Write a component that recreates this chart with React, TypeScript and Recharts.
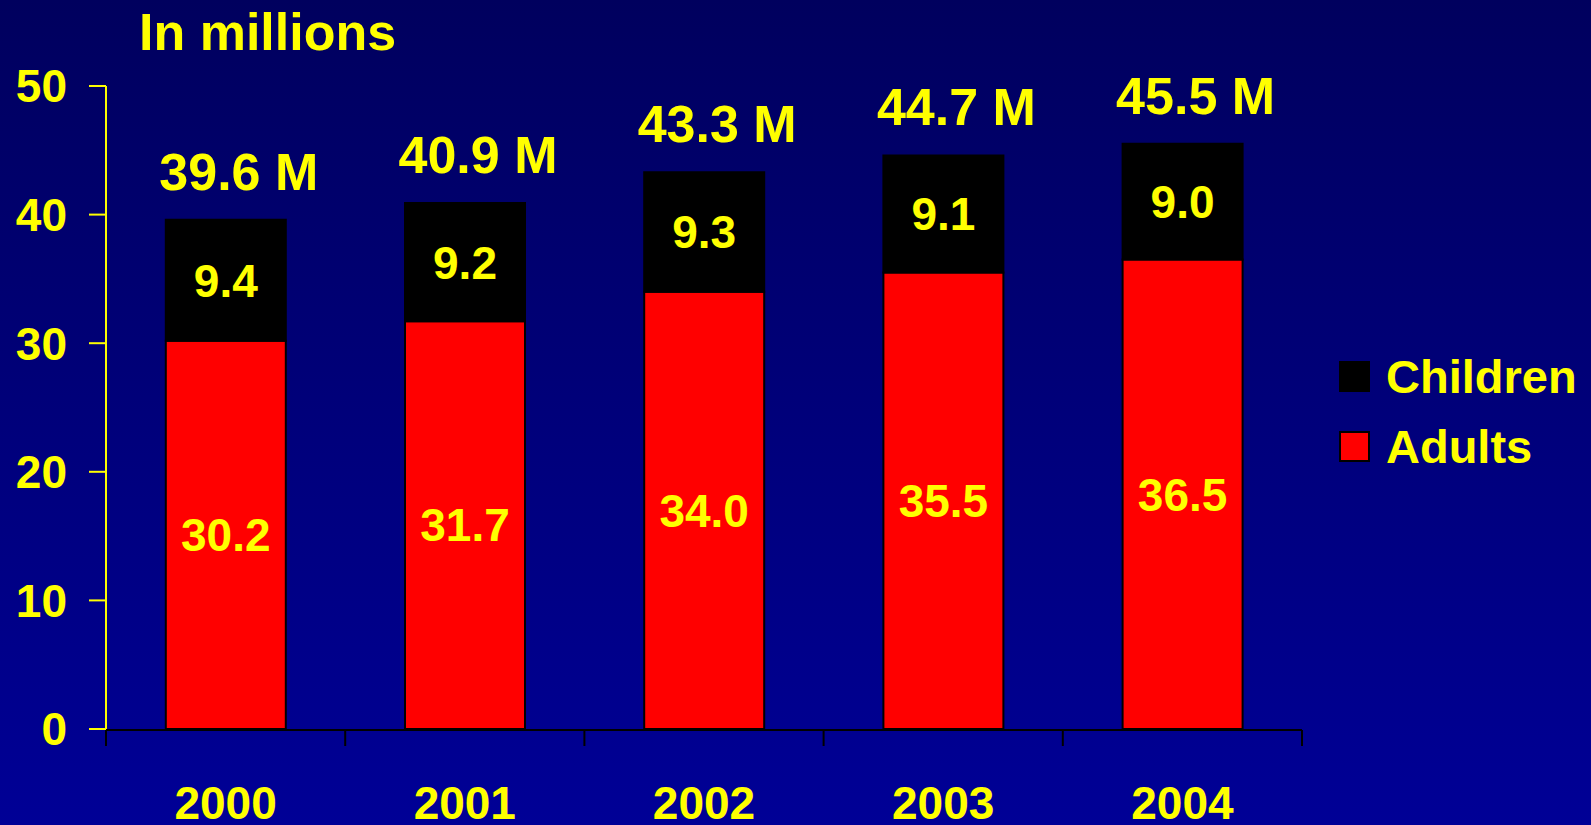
// People living with HIV, adults vs children, stacked bars on a navy slide background.
import { BarChart, Bar, XAxis, YAxis, LabelList } from 'recharts';

const years = ['2000', '2001', '2002', '2003', '2004'];
const adults = [30.2, 31.7, 34.0, 35.5, 36.5];
const children = [9.4, 9.2, 9.3, 9.1, 9.0];
const totals = ['39.6 M', '40.9 M', '43.3 M', '44.7 M', '45.5 M'];
const yTicks = [0, 10, 20, 30, 40, 50];
const edgeTicks = [0, 1, 2, 3, 4, 5]; // category boundaries, where the tick marks sit

const FONT = '"Liberation Sans", Arial, sans-serif';
const YELLOW = '#FFFF00';

const legendItems = [
  { name: 'Children', color: '#000000' },
  { name: 'Adults', color: '#FF0000' },
];

// slot = middle of each category on the 0..5 boundary scale
const data = years.map((year, i) => ({
  year,
  slot: i + 0.5,
  adults: adults[i],
  children: children[i],
  total: totals[i],
}));

const valueLabel = {
  fill: YELLOW,
  fontSize: 46,
  fontWeight: 'bold',
  fontFamily: FONT,
};

function TotalLabel(props: any) {
  const { x, y, width, value } = props;
  return (
    <text
      x={x + width / 2 + 13}
      y={y - 30}
      textAnchor="middle"
      fill={YELLOW}
      fontSize={52}
      fontWeight="bold"
      fontFamily={FONT}
    >
      {value}
    </text>
  );
}

// tick marks only, no text under the boundary ticks
const NoLabel = () => <g />;

export default function App() {
  return (
    <div
      style={{
        position: 'absolute',
        left: 0,
        top: 0,
        width: 1591,
        height: 825,
        overflow: 'hidden',
        background: 'linear-gradient(to bottom, #00005E, #000096)',
        fontFamily: FONT,
      }}
    >
      <div
        style={{
          position: 'absolute',
          left: 139,
          top: 6,
          fontSize: 52,
          lineHeight: '52px',
          fontWeight: 'bold',
          color: YELLOW,
          whiteSpace: 'nowrap',
        }}
      >
        In millions
      </div>

      <BarChart
        width={1591}
        height={825}
        data={data}
        margin={{ top: 86, right: 289, bottom: 0, left: 0 }}
        barCategoryGap="25%"
      >
        <YAxis
          type="number"
          domain={[0, 50]}
          ticks={yTicks}
          interval={0}
          width={106}
          stroke={YELLOW}
          strokeWidth={2}
          tickSize={17}
          tickMargin={22}
          tick={{ fill: YELLOW, fontSize: 46, fontWeight: 'bold', fontFamily: FONT }}
        />
        <XAxis
          dataKey="year"
          height={1}
          interval={0}
          axisLine={false}
          tickLine={false}
          tickSize={0}
          tickMargin={57}
          tick={{ fill: YELLOW, fontSize: 46, fontWeight: 'bold', fontFamily: FONT }}
        />
        <XAxis
          xAxisId="edges"
          dataKey="slot"
          type="number"
          domain={[0, 5]}
          ticks={edgeTicks}
          interval={0}
          height={95}
          allowDataOverflow
          stroke="#000000"
          strokeWidth={2}
          tickSize={16}
          tickLine={{ stroke: '#000000', strokeWidth: 2 }}
          tick={NoLabel}
        />
        <Bar
          dataKey="adults"
          stackId="a"
          fill="#FF0000"
          stroke="#000000"
          strokeWidth={2}
          isAnimationActive={false}
        >
          <LabelList
            dataKey="adults"
            position="center"
            formatter={(v: any) => Number(v).toFixed(1)}
            {...valueLabel}
          />
        </Bar>
        <Bar
          dataKey="children"
          stackId="a"
          fill="#000000"
          stroke="#000000"
          strokeWidth={2}
          isAnimationActive={false}
        >
          <LabelList
            dataKey="children"
            position="center"
            formatter={(v: any) => Number(v).toFixed(1)}
            {...valueLabel}
          />
          <LabelList dataKey="total" content={TotalLabel} />
        </Bar>
      </BarChart>

      <div style={{ position: 'absolute', left: 1339, top: 361 }}>
        {legendItems.map((item) => (
          <div
            key={item.name}
            style={{ display: 'flex', alignItems: 'center', height: 31, marginBottom: 39 }}
          >
            <span
              style={{
                width: 31,
                height: 31,
                boxSizing: 'border-box',
                background: item.color,
                border: '2px solid #000000',
                flexShrink: 0,
              }}
            />
            <span
              style={{
                marginLeft: 16,
                fontSize: 47,
                lineHeight: '31px',
                fontWeight: 'bold',
                color: YELLOW,
                whiteSpace: 'nowrap',
              }}
            >
              {item.name}
            </span>
          </div>
        ))}
      </div>
    </div>
  );
}
